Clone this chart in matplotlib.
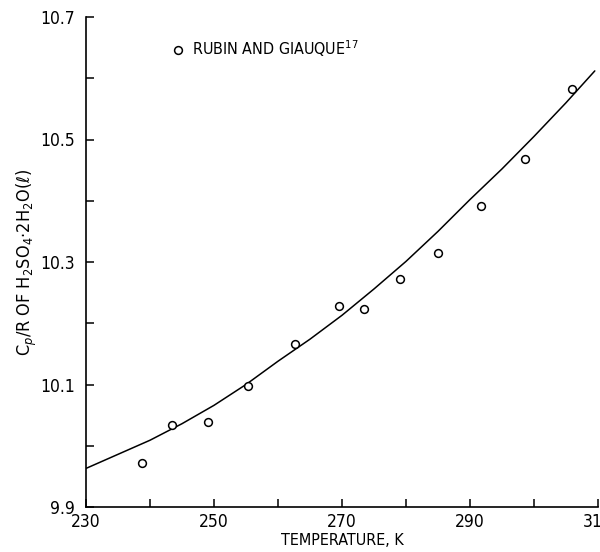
import matplotlib
matplotlib.use("Agg")
import matplotlib.pyplot as plt
from matplotlib.ticker import MultipleLocator, FixedLocator

plt.rcParams["font.family"] = ["DejaVu Sans"]
plt.rcParams["font.stretch"] = "condensed"
plt.rcParams["mathtext.fontset"] = "custom"
plt.rcParams["mathtext.rm"] = "DejaVu Sans:stretch=condensed"
plt.rcParams["mathtext.it"] = "DejaVu Sans:italic:stretch=condensed"

# Rubin and Giauque measurements
temp_k = [238.7, 243.4, 249.0, 255.3, 262.7, 269.5, 273.4, 279.0, 285.0, 291.7, 298.6, 306.0]
cp_r = [9.972, 10.034, 10.038, 10.098, 10.166, 10.228, 10.223, 10.272, 10.314, 10.392, 10.468, 10.582]

# Smoothed curve
curve_t = [230, 235, 240, 245, 250, 255, 260, 265, 270, 275, 280, 285, 290, 295, 300, 305, 309.5]
curve_cp = [9.963, 9.986, 10.009, 10.036, 10.066, 10.100, 10.138, 10.174, 10.213, 10.256, 10.301,
            10.350, 10.402, 10.452, 10.505, 10.560, 10.612]

x_ticks = [230, 250, 270, 290, 310]
y_ticks = [9.9, 10.1, 10.3, 10.5, 10.7]

fig = plt.figure(figsize=(6.0, 5.52), dpi=100)
ax = fig.add_axes([86 / 600, 45 / 552, 512 / 600, 490 / 552])

ax.plot(curve_t, curve_cp, color="black", lw=1.1, solid_capstyle="round")
ax.plot(temp_k, cp_r, linestyle="none", marker="o", ms=5.6, mfc="white", mec="black",
        mew=1.1, label="RUBIN AND GIAUQUE$^{17}$")

ax.set_xlim(230, 310)
ax.set_ylim(9.9, 10.7)

ax.xaxis.set_major_locator(FixedLocator(x_ticks))
ax.xaxis.set_minor_locator(MultipleLocator(10))
ax.yaxis.set_major_locator(FixedLocator(y_ticks))
ax.yaxis.set_minor_locator(MultipleLocator(0.1))
ax.set_xticklabels([str(t) for t in x_ticks])
ax.set_yticklabels([f"{v:.1f}" for v in y_ticks])

for side in ("top", "right"):
    ax.spines[side].set_visible(False)
for side in ("left", "bottom"):
    ax.spines[side].set_linewidth(1.2)

ax.tick_params(which="both", direction="in", length=6, width=1.1, labelsize=12.5, pad=4)
ax.tick_params(axis="y", which="major", pad=8)

ax.set_xlabel("TEMPERATURE, K", fontsize=11.5, labelpad=2)
ax.set_ylabel(r"C$_p$/R OF H$_2$SO$_4$·2H$_2$O($\ell$)", fontsize=13, labelpad=1)

ax.legend(loc="center left", bbox_to_anchor=(0.17, 0.935), frameon=False, fontsize=11.5,
          handlelength=0.6, handletextpad=0.6, borderpad=0, borderaxespad=0)

fig.savefig("out.png", dpi=100)
